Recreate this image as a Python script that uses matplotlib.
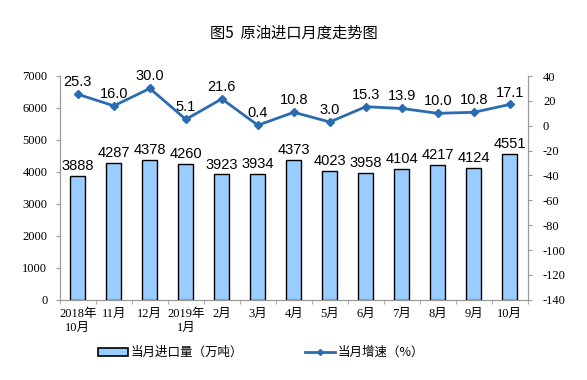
import matplotlib.pyplot as plt
import numpy as np
from matplotlib.lines import Line2D
from matplotlib.patches import Patch

plt.rcParams['font.family'] = ['Noto Sans CJK SC', 'DejaVu Sans']
plt.rcParams['axes.unicode_minus'] = False

months = ["2018年\n10月", "11月", "12月", "2019年\n1月", "2月", "3月", "4月",
          "5月", "6月", "7月", "8月", "9月", "10月"]
imports = [3888, 4287, 4378, 4260, 3923, 3934, 4373, 4023, 3958, 4104, 4217, 4124, 4551]
growth = [25.3, 16.0, 30.0, 5.1, 21.6, 0.4, 10.8, 3.0, 15.3, 13.9, 10.0, 10.8, 17.1]

bar_color = "#99CCFF"
line_color = "#2B6CB0"
serif = ['Liberation Serif', 'Noto Sans CJK SC']

fig = plt.figure(figsize=(5.87, 3.80), dpi=100)
ax = fig.add_axes([0.102, 0.211, 0.797, 0.589])
ax2 = ax.twinx()

x = np.arange(len(months))
ax.bar(x, imports, width=0.42, color=bar_color, edgecolor="black", linewidth=1.0, zorder=2)
for xi, v in zip(x, imports):
    ax.text(xi, v + 90, str(v), ha="center", va="bottom", fontsize=10.5,
            family="Liberation Sans", color="black")

ax2.plot(x, growth, color=line_color, linewidth=2, marker="D", markersize=4, zorder=3)
for xi, v in zip(x, growth):
    ax2.text(xi, v + 4, f"{v:.1f}", ha="center", va="bottom", fontsize=10.5,
             family="Liberation Sans", color="black")

ax.set_xlim(-0.5, len(months) - 0.5)
ax.set_ylim(0, 7000)
ax.set_yticks(range(0, 7001, 1000))
ax2.set_ylim(-140, 40)
ax2.set_yticks(range(-140, 41, 20))

ax.set_xticks(x)
ax.set_xticklabels(months, family=serif, fontsize=9)
ax.set_xticks(np.arange(-0.5, len(months), 1), minor=True)
ax.tick_params(axis="x", which="major", length=0, pad=6)
ax.tick_params(axis="x", which="minor", length=3, color="#999999", direction="out")
ax.tick_params(axis="y", length=3, color="#999999", labelsize=9, pad=6)
ax2.tick_params(axis="y", length=3, color="#999999", labelsize=9, pad=8)
for lbl in ax.get_yticklabels() + ax2.get_yticklabels():
    lbl.set_family(serif)

for a in (ax, ax2):
    a.spines["top"].set_visible(False)
    for s in ("left", "right", "bottom"):
        a.spines[s].set_color("#999999")

fig.text(0.5, 0.912, "图5  原油进口月度走势图", ha="center", va="center",
         fontsize=11, fontweight="medium")

handles = [Patch(facecolor=bar_color, edgecolor="black", linewidth=1.2),
           Line2D([0], [0], color=line_color, linewidth=2, marker="D", markersize=3)]
fig.legend(handles, ["当月进口量（万吨）", "当月增速（%）"], loc="center",
           bbox_to_anchor=(0.445, 0.072), ncol=2, frameon=False, fontsize=9,
           columnspacing=5, handlelength=2.4, handleheight=0.6, handletextpad=0.2)

fig.savefig("out.png", dpi=100)
